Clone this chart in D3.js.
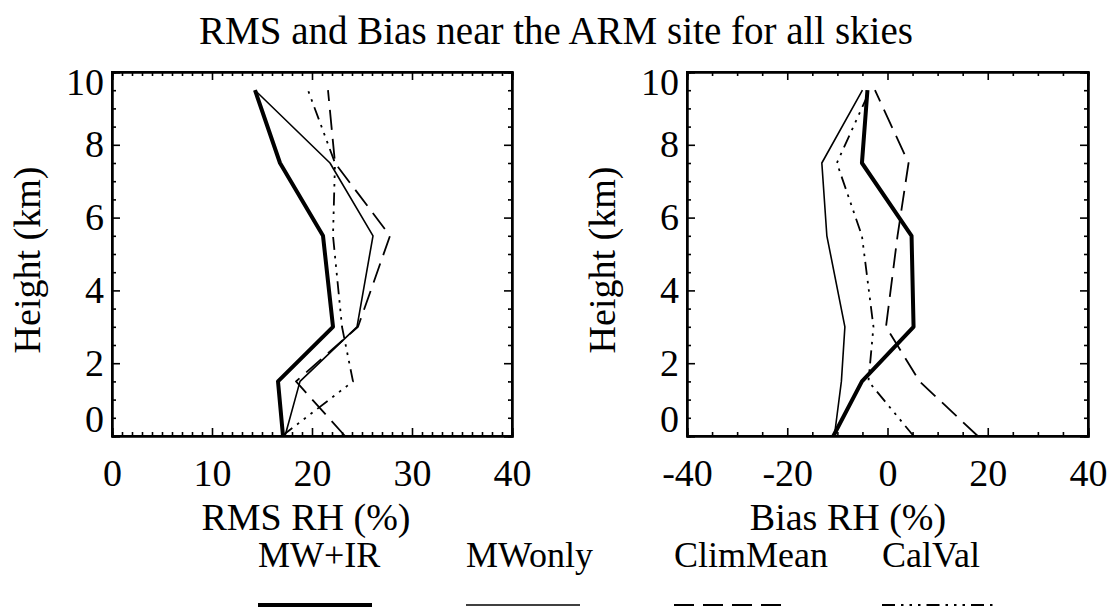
<!DOCTYPE html>
<html>
<head>
<meta charset="utf-8">
<script src="https://cdn.jsdelivr.net/npm/d3@7"></script>
<style>
  html, body { margin: 0; padding: 0; background: #fff; }
</style>
</head>
<body>
<svg id="chart" width="1117" height="610"></svg>
<script>
// Heights (km) of the profile levels
const heights = [0, 1.5, 3.0, 5.5, 7.5, 9.5];

// RMS RH (%) at each height
const rmsMwIr    = [17.1, 16.6, 22.1, 21.1, 16.8, 14.3];
const rmsMwOnly  = [17.3, 18.8, 24.5, 26.1, 21.8, 14.3];
const rmsClim    = [23.3, 18.4, 24.6, 27.8, 22.3, 21.6];
const rmsCalVal  = [17.0, 24.1, 23.0, 22.1, 22.3, 19.6];

// Bias RH (%) at each height
const biasMwIr   = [-10.8, -5.1, 5.2, 4.8, -5.1, -4.0];
const biasMwOnly = [-10.6, -9.2, -8.5, -12.1, -13.1, -5.0];
const biasClim   = [18.0, 6.4, -0.3, 2.0, 4.2, -2.5];
const biasCalVal = [5.2, -3.8, -2.8, -5.1, -10.1, -3.5];

// Axis ticks
const yTicks = [0, 2, 4, 6, 8, 10];
const rmsTicks = [0, 10, 20, 30, 40];
const biasTicks = [-40, -20, 0, 20, 40];

const seriesNames = ["MW+IR", "MWonly", "ClimMean", "CalVal"];
const styles = {
  "MW+IR":   { width: 4,   dash: null },
  "MWonly":  { width: 1.6, dash: null },
  "ClimMean":{ width: 1.8, dash: "20,9" },
  "CalVal":  { width: 1.8, dash: "13,6,2.5,6,2.5,6,2.5,6" }
};

const SERIF = "'Liberation Serif', 'Times New Roman', Times, 'DejaVu Serif', serif";
const FONT = 38;
const fmt = d => String(d); // plain hyphen-minus labels

const svg = d3.select("#chart");

function label(sel, size) {
  return sel.attr("font-family", SERIF).style("font-family", SERIF)
    .style("font-size", size + "px").attr("fill", "#000");
}

label(svg.append("text")
  .attr("x", 556).attr("y", 44)
  .attr("text-anchor", "middle"), 39)
  .text("RMS and Bias near the ARM site for all skies");

function panel(opts) {
  const { x0, x1, y0, y1, domain, ticks, minorStep, xTitle, xTitleX, data } = opts;
  const x = d3.scaleLinear().domain(domain).range([x0, x1]);
  const y = d3.scaleLinear().domain([0, 10]).range([y1, y0]);
  const g = svg.append("g");

  const minorX = d3.range(domain[0], domain[1] + 1e-9, minorStep).filter(v => !ticks.includes(v));
  const minorY = d3.range(0, 10.0001, 0.5).filter(v => !yTicks.includes(v));

  // bottom axis with labels
  g.append("g").attr("transform", `translate(0,${y1})`)
    .call(d3.axisBottom(x).tickValues(ticks).tickSize(-8).tickPadding(23).tickFormat(fmt));
  g.append("g").attr("transform", `translate(0,${y1})`)
    .call(d3.axisBottom(x).tickValues(minorX).tickSize(-4).tickFormat(""));
  // top axis (ticks only)
  g.append("g").attr("transform", `translate(0,${y0})`)
    .call(d3.axisTop(x).tickValues(ticks).tickSize(-8).tickFormat(""));
  g.append("g").attr("transform", `translate(0,${y0})`)
    .call(d3.axisTop(x).tickValues(minorX).tickSize(-4).tickFormat(""));
  // left axis with labels
  const left = g.append("g").attr("transform", `translate(${x0},0)`)
    .call(d3.axisLeft(y).tickValues(yTicks).tickSize(-8).tickPadding(8).tickFormat(fmt));
  g.append("g").attr("transform", `translate(${x0},0)`)
    .call(d3.axisLeft(y).tickValues(minorY).tickSize(-4).tickFormat(""));
  // right axis (ticks only)
  g.append("g").attr("transform", `translate(${x1},0)`)
    .call(d3.axisRight(y).tickValues(yTicks).tickSize(-8).tickFormat(""));
  g.append("g").attr("transform", `translate(${x1},0)`)
    .call(d3.axisRight(y).tickValues(minorY).tickSize(-4).tickFormat(""));

  g.selectAll("g").attr("font-family", SERIF);
  g.selectAll(".domain").attr("stroke", "#000").attr("stroke-width", 2);
  g.selectAll(".tick line").attr("stroke", "#000").attr("stroke-width", 1.6);
  label(g.selectAll(".tick text"), FONT);
  // end labels sit inside the frame
  left.selectAll(".tick text").attr("dy", d => d === 10 ? "0.58em" : d === 0 ? "-0.12em" : "0.32em");

  // frame
  g.append("rect").attr("x", x0).attr("y", y0).attr("width", x1 - x0).attr("height", y1 - y0)
    .attr("fill", "none").attr("stroke", "#000").attr("stroke-width", 2);

  const line = d3.line().x(d => x(d[0])).y(d => y(d[1]));
  seriesNames.forEach((name, i) => {
    const pts = data[i].map((v, k) => [v, heights[k]]);
    const st = styles[name];
    g.append("path").datum(pts)
      .attr("d", line)
      .attr("fill", "none")
      .attr("stroke", "#000")
      .attr("stroke-width", st.width)
      .attr("stroke-linejoin", "round")
      .attr("stroke-dasharray", st.dash);
  });

  label(svg.append("text").attr("x", xTitleX).attr("y", 530)
    .attr("text-anchor", "middle"), FONT).text(xTitle);
  label(svg.append("text")
    .attr("transform", `translate(${x0 - 72},${260}) rotate(-90)`)
    .attr("text-anchor", "middle"), FONT).text("Height (km)");
}

panel({ x0: 112, x1: 512, y0: 72, y1: 436, domain: [0, 40], ticks: rmsTicks, minorStep: 1,
        xTitle: "RMS RH (%)", xTitleX: 306, data: [rmsMwIr, rmsMwOnly, rmsClim, rmsCalVal] });
panel({ x0: 687, x1: 1088, y0: 72, y1: 436, domain: [-40, 40], ticks: biasTicks, minorStep: 5,
        xTitle: "Bias RH (%)", xTitleX: 848, data: [biasMwIr, biasMwOnly, biasClim, biasCalVal] });

// legend
const legendX = d3.scalePoint().domain(seriesNames).range([258, 882]);
seriesNames.forEach(name => {
  const lx = legendX(name);
  const st = styles[name];
  label(svg.append("text").attr("x", lx).attr("y", 567), 36).text(name);
  svg.append("line").attr("x1", lx).attr("x2", lx + 114).attr("y1", 605).attr("y2", 605)
    .attr("stroke", "#000").attr("stroke-width", st.width).attr("stroke-dasharray", st.dash);
});
</script>
</body>
</html>
